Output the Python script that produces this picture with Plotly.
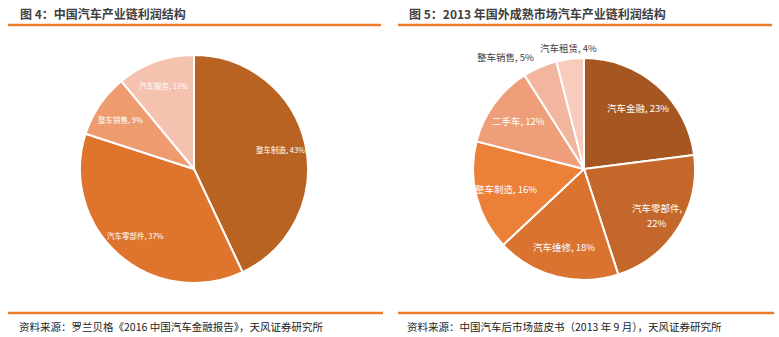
import math
import plotly.graph_objects as go

W, H = 779, 337

# Left pie: China auto industry chain profit structure
left_labels = ["整车制造", "汽车零部件", "整车销售", "汽车服务"]
left_values = [43, 37, 9, 11]
left_colors = ["#B86322", "#DF752D", "#EE9B6F", "#F5C2B0"]

# Right pie: 2013 mature overseas markets
right_labels = ["汽车金融", "汽车零部件", "汽车维修", "整车制造", "二手车", "整车销售", "汽车租赁"]
right_values = [23, 22, 18, 16, 12, 5, 4]
right_colors = ["#A65621", "#C4672A", "#D9732F", "#EC8038", "#EE9F79", "#F2B59D", "#F7CCBD"]
right_outside = ["整车销售", "汽车租赁"]
right_wrapped = ["汽车零部件"]

titles = ["图 4：中国汽车产业链利润结构", "图 5：2013 年国外成熟市场汽车产业链利润结构"]
sources = ["资料来源：罗兰贝格《2016 中国汽车金融报告》，天风证券研究所",
           "资料来源：中国汽车后市场蓝皮书（2013 年 9 月），天风证券研究所"]

FONT = "Noto Sans CJK SC"

# pie geometry (pixels)
LCX, LCY, LR = 194, 169, 114
RCX, RCY, RR = 584, 169, 111


def mid_angles(values):
    """clockwise angle from 12 o'clock (radians) of each slice's middle"""
    tot = sum(values)
    out, cum = [], 0
    for v in values:
        out.append(2 * math.pi * (cum + v / 2) / tot)
        cum += v
    return out


def pie(labels, values, colors, cx, cy, r):
    return go.Pie(
        labels=labels, values=values, sort=False, direction="clockwise",
        marker=dict(colors=colors, line=dict(color="white", width=2)),
        textinfo="none",
        domain=dict(x=[(cx - r) / W, (cx + r) / W], y=[1 - (cy + r) / H, 1 - (cy - r) / H]),
        hoverinfo="label+value", showlegend=False,
    )


fig = go.Figure()
fig.add_trace(pie(left_labels, left_values, left_colors, LCX, LCY, LR))
fig.add_trace(pie(right_labels, right_values, right_colors, RCX, RCY, RR))

shapes = []
annotations = []


def add_label(text, px, py, size, color, anchor="center"):
    annotations.append(dict(text=text, x=px / W, y=1 - py / H, xref="paper", yref="paper",
                            xanchor=anchor, yanchor="middle", showarrow=False,
                            font=dict(family=FONT, size=size, color=color)))


# left pie labels, inside along each slice's mid angle
for l, v, a in zip(left_labels, left_values, mid_angles(left_values)):
    add_label(f"{l}, {v}%", LCX + 0.78 * LR * math.sin(a), LCY - 0.78 * LR * math.cos(a),
              7.5, "white")

# right pie labels
for l, v, a in zip(right_labels, right_values, mid_angles(right_values)):
    s, c = math.sin(a), math.cos(a)
    if l in right_outside:
        anchor = "center" if abs(s) < 0.2 else ("right" if s < 0 else "left")
        add_label(f"{l}, {v}%", RCX + 1.1 * RR * s, RCY - 1.1 * RR * c, 9.5, "#404040", anchor)
    elif l in right_wrapped:
        px, py = RCX + 0.78 * RR * s, RCY - 0.78 * RR * c
        add_label(f"{l},", px, py - 7.5, 9.5, "white")
        add_label(f"{v}%", px, py + 7.5, 9.5, "white")
    else:
        add_label(f"{l}, {v}%", RCX + 0.73 * RR * s, RCY - 0.73 * RR * c, 9.5, "white")

for x0, x1, tx, sx, t, s in [(8, 381, 18, 17, titles[0], sources[0]),
                             (398, 772, 407, 405, titles[1], sources[1])]:
    shapes.append(dict(type="line", xref="paper", yref="paper",
                       x0=x0 / W, x1=x1 / W, y0=1 - 25 / H, y1=1 - 25 / H,
                       line=dict(color="#EC7C2C", width=2.5)))
    shapes.append(dict(type="line", xref="paper", yref="paper",
                       x0=x0 / W, x1=(x1 + 2) / W, y0=1 - 313 / H, y1=1 - 313 / H,
                       line=dict(color="#EC7C2C", width=2.5)))
    annotations.append(dict(text=f"<b>{t}</b>", x=tx / W, y=1 - 13 / H, xref="paper", yref="paper",
                            xanchor="left", yanchor="middle", showarrow=False,
                            font=dict(family=FONT, size=12, color="#404040")))
    annotations.append(dict(text=s, x=sx / W, y=1 - 326 / H, xref="paper", yref="paper",
                            xanchor="left", yanchor="middle", showarrow=False,
                            font=dict(family=FONT, size=10.5, color="#222222")))

fig.update_layout(
    width=W, height=H, margin=dict(l=0, r=0, t=0, b=0),
    paper_bgcolor="white", plot_bgcolor="white",
    shapes=shapes, annotations=annotations,
)
fig.write_html("out.html")
